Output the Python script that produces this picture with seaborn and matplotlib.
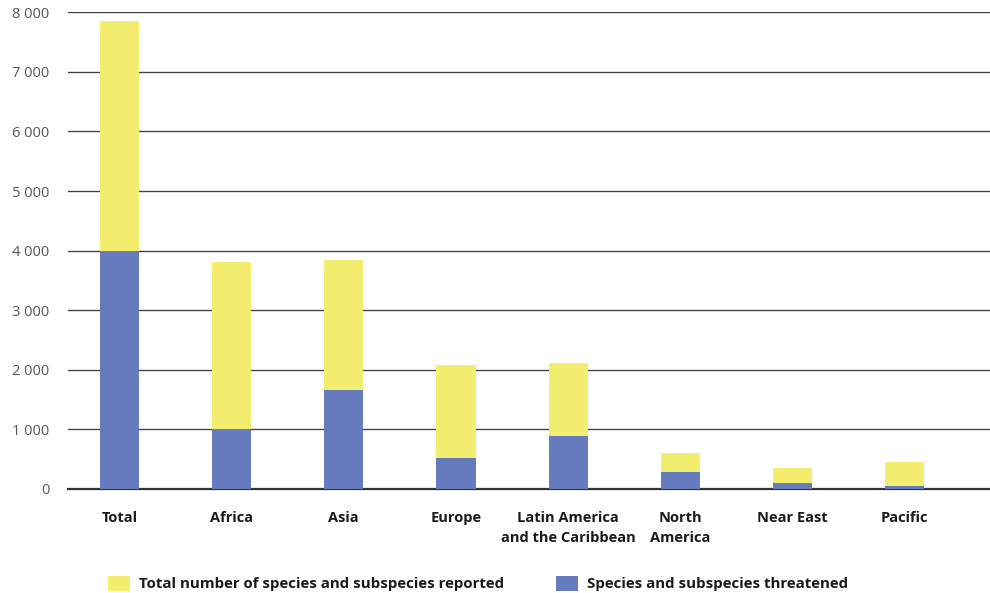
import matplotlib
matplotlib.use("Agg")
import matplotlib.pyplot as plt
import matplotlib.ticker as mticker
from matplotlib.patches import Patch
import seaborn as sns
import pandas as pd

# Data
regions = ["Total", "Africa", "Asia", "Europe", "Latin America\nand the Caribbean",
           "North\nAmerica", "Near East", "Pacific"]
reported = [7860, 3810, 3843, 2080, 2113, 601, 348, 449]
threatened = [4000, 1007, 1659, 516, 886, 281, 96, 45]

yellow = "#F4EE6E"
blue = "#657BBD"

df = pd.DataFrame({"region": regions, "reported": reported, "threatened": threatened})

sns.set_theme(style="white")
plt.rcParams["font.family"] = ["Open Sans", "DejaVu Sans"]

fig = plt.figure(figsize=(9.9, 5.93), dpi=100)
ax = fig.add_axes([0.069, 0.176, 0.931, 0.803])

# yellow = total reported, blue = threatened drawn on top
sns.barplot(data=df, x="region", y="reported", color=yellow, width=0.35,
            saturation=1, linewidth=0, ax=ax, zorder=2)
sns.barplot(data=df, x="region", y="threatened", color=blue, width=0.35,
            saturation=1, linewidth=0, ax=ax, zorder=3)

ax.set_ylim(0, 8000)
ax.set_xlim(-0.455, 7.76)
ax.set_yticks(range(0, 8001, 1000))
ax.yaxis.set_major_formatter(mticker.FuncFormatter(lambda v, p: f"{int(v):,}".replace(",", " ")))
ax.grid(axis="y", color="#444444", linewidth=1.0, zorder=0)
ax.set_axisbelow(True)
for s in ["top", "right", "left"]:
    ax.spines[s].set_visible(False)
ax.spines["bottom"].set_color("#333333")
ax.spines["bottom"].set_linewidth(1.6)

ax.set_xlabel("")
ax.set_ylabel("")
ax.tick_params(axis="y", length=0, pad=13.5, labelsize=10.5, labelcolor="#555555")
ax.tick_params(axis="x", length=0, pad=16, labelsize=10.5, labelcolor="#1a1a1a")
for lab in ax.get_xticklabels():
    lab.set_fontweight("bold")
    lab.set_linespacing(1.55)

handles = [Patch(facecolor=yellow, edgecolor="none", label="Total number of species and subspecies reported"),
           Patch(facecolor=blue, edgecolor="none", label="Species and subspecies threatened")]
leg = fig.legend(handles=handles, loc="lower left", bbox_to_anchor=(0.095, -0.02), ncol=2,
                 frameon=False, handlelength=1.5, handleheight=1.2, handletextpad=0.6,
                 columnspacing=3.45, prop={"weight": "bold", "size": 10.8})
for t in leg.get_texts():
    t.set_color("#1a1a1a")

fig.savefig("out.png", dpi=100)
